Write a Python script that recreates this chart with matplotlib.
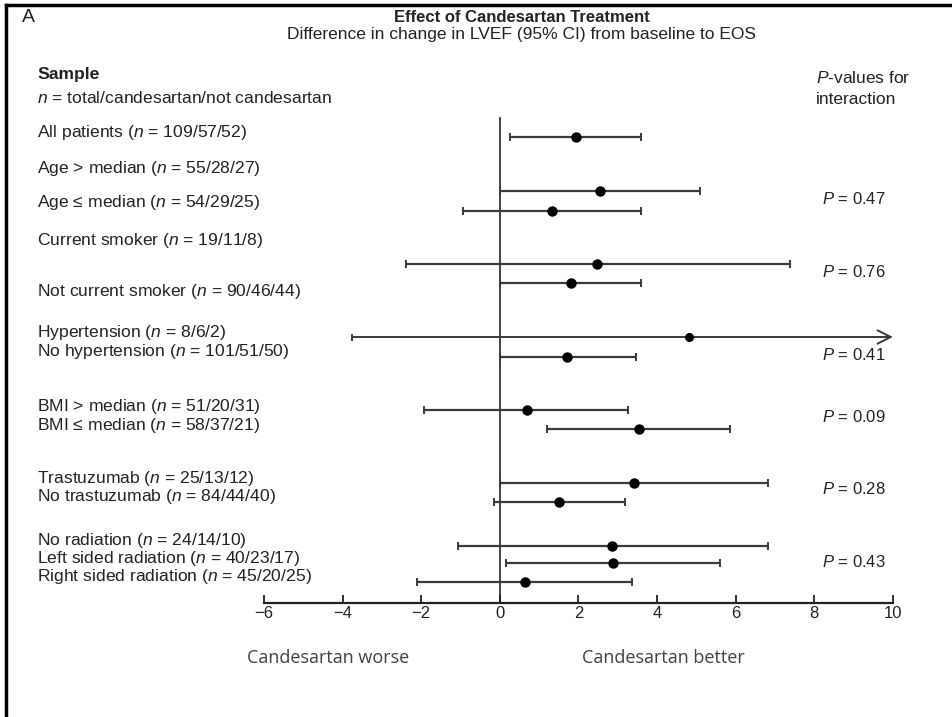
import matplotlib
matplotlib.use("Agg")
import matplotlib.pyplot as plt

plt.rcParams['font.family'] = ['Liberation Sans', 'DejaVu Sans']
plt.rcParams['mathtext.fontset'] = 'custom'
plt.rcParams['mathtext.rm'] = 'Liberation Sans'
plt.rcParams['mathtext.it'] = 'Liberation Sans:italic'

# ---------------- data ----------------
labels = [
    "All patients ($n$ = 109/57/52)",
    "Age > median ($n$ = 55/28/27)",
    "Age \u2264 median ($n$ = 54/29/25)",
    "Current smoker ($n$ = 19/11/8)",
    "Not current smoker ($n$ = 90/46/44)",
    "Hypertension ($n$ = 8/6/2)",
    "No hypertension ($n$ = 101/51/50)",
    "BMI > median ($n$ = 51/20/31)",
    "BMI \u2264 median ($n$ = 58/37/21)",
    "Trastuzumab ($n$ = 25/13/12)",
    "No trastuzumab ($n$ = 84/44/40)",
    "No radiation ($n$ = 24/14/10)",
    "Left sided radiation ($n$ = 40/23/17)",
    "Right sided radiation ($n$ = 45/20/25)",
]
estimate = [1.93, 2.54, 1.33, 2.46, 1.80, 4.80, 1.72, 0.68, 3.53, 3.42, 1.51, 2.84, 2.88, 0.64]
ci_low   = [0.26, 0.00, -0.93, -2.40, 0.00, -3.75, 0.00, -1.92, 1.21, 0.00, -0.16, -1.07, 0.16, -2.11]
ci_high  = [3.60, 5.09, 3.60, 7.37, 3.60, 10.0, 3.46, 3.27, 5.86, 6.83, 3.18, 6.83, 5.61, 3.37]
truncated = [False, False, False, False, False, True, False, False, False, False, False, False, False, False]
p_values = ["0.47", "0.76", "0.41", "0.09", "0.28", "0.43"]
x_ticks = [-6, -4, -2, 0, 2, 4, 6, 8, 10]

# ---------------- layout (pixel positions) ----------------
W, H = 953, 717
bar_y   = [137, 191, 211, 264, 283, 337, 357, 410, 429, 483, 502, 546, 563, 582]
label_y = [132, 168, 203, 240, 292, 333, 352, 406, 425, 478, 497, 541, 559, 577]
p_y     = [199, 272, 355, 417, 489, 562]
ax_left_px, ax_right_px = 264, 893
ax_top_px, ax_bot_px = 112, 603

fig = plt.figure(figsize=(W / 100, H / 100), dpi=100)
fig.patch.set_facecolor('white')

def fx(px):
    return px / W

def fy(py):
    return 1 - py / H

ax = fig.add_axes([fx(ax_left_px), fy(ax_bot_px),
                   fx(ax_right_px) - fx(ax_left_px), fy(ax_top_px) - fy(ax_bot_px)])
ax.set_xlim(-6, 10)
ax.set_ylim(ax_bot_px, ax_top_px)
ax.patch.set_alpha(0)
for s in ['left', 'top', 'right']:
    ax.spines[s].set_visible(False)
ax.spines['bottom'].set_linewidth(1.6)
ax.spines['bottom'].set_color('#222222')
ax.set_xticks(x_ticks)
ax.set_xticklabels([str(t).replace('-', '\u2212') for t in x_ticks])
ax.tick_params(axis='x', direction='in', length=6, width=1.3, color='#222222',
               labelsize=12, pad=2, labelcolor='#222222')
ax.set_yticks([])

# zero line
ax.plot([0, 0], [118, ax_bot_px], color='#222222', lw=1.2, zorder=1)

lc = '#3a3a3a'
for i in range(len(estimate)):
    y = bar_y[i]
    if truncated[i]:
        ax.annotate('', xy=(ci_high[i], y), xytext=(ci_low[i], y),
                    arrowprops=dict(arrowstyle='->', color=lc, lw=1.4,
                                    mutation_scale=24, shrinkA=0, shrinkB=0))
        ax.errorbar([ci_low[i]], [y], yerr=[[3.5], [3.5]], fmt='none', ecolor=lc, lw=1.4)
        ax.plot([estimate[i]], [y], 'o', color='black', ms=5.5, zorder=3)
    else:
        ax.errorbar([estimate[i]], [y],
                    xerr=[[estimate[i] - ci_low[i]], [ci_high[i] - estimate[i]]],
                    fmt='o', color='black', ms=6.5, ecolor=lc, elinewidth=1.6,
                    capsize=3, capthick=1.4, zorder=3)

# row labels
for lab, y in zip(labels, label_y):
    fig.text(fx(37), fy(y), lab, fontsize=12.6, color='#222222', va='center', ha='left')

# p-values
for p, y in zip(p_values, p_y):
    fig.text(fx(822), fy(y), "$P$ = " + p, fontsize=12, color='#222222', va='center', ha='left')

# headers
fig.text(fx(22), fy(18), "A", fontsize=14, color='#222222', va='center', ha='left')
fig.text(fx(522), fy(17), "Effect of Candesartan Treatment", fontsize=12,
         fontweight='bold', color='#222222', va='center', ha='center')
fig.text(fx(522), fy(34), "Difference in change in LVEF (95% CI) from baseline to EOS",
         fontsize=12.5, color='#222222', va='center', ha='center')
fig.text(fx(37), fy(74), "Sample", fontsize=12.6, fontweight='bold', color='#222222',
         va='center', ha='left')
fig.text(fx(37), fy(98), "$n$ = total/candesartan/not candesartan", fontsize=12.6,
         color='#222222', va='center', ha='left')
fig.text(fx(816), fy(78), "$P$-values for", fontsize=12.5, color='#222222',
         va='center', ha='left')
fig.text(fx(816), fy(99), "interaction", fontsize=12.5, color='#222222',
         va='center', ha='left')

# bottom annotations
fig.text(fx(328), fy(658), "Candesartan worse", fontsize=13, family=['Open Sans', 'DejaVu Sans'],
         color='#404040', va='center', ha='center')
fig.text(fx(663), fy(658), "Candesartan better", fontsize=13, family=['Open Sans', 'DejaVu Sans'],
         color='#404040', va='center', ha='center')

# frame (top and left)
fig.add_artist(plt.Line2D([fx(6), fx(953)], [fy(5), fy(5)], color='black', lw=2.5))
fig.add_artist(plt.Line2D([fx(6), fx(6)], [fy(5), fy(717)], color='black', lw=2.5))

fig.savefig("out.png", dpi=100, facecolor='white')
